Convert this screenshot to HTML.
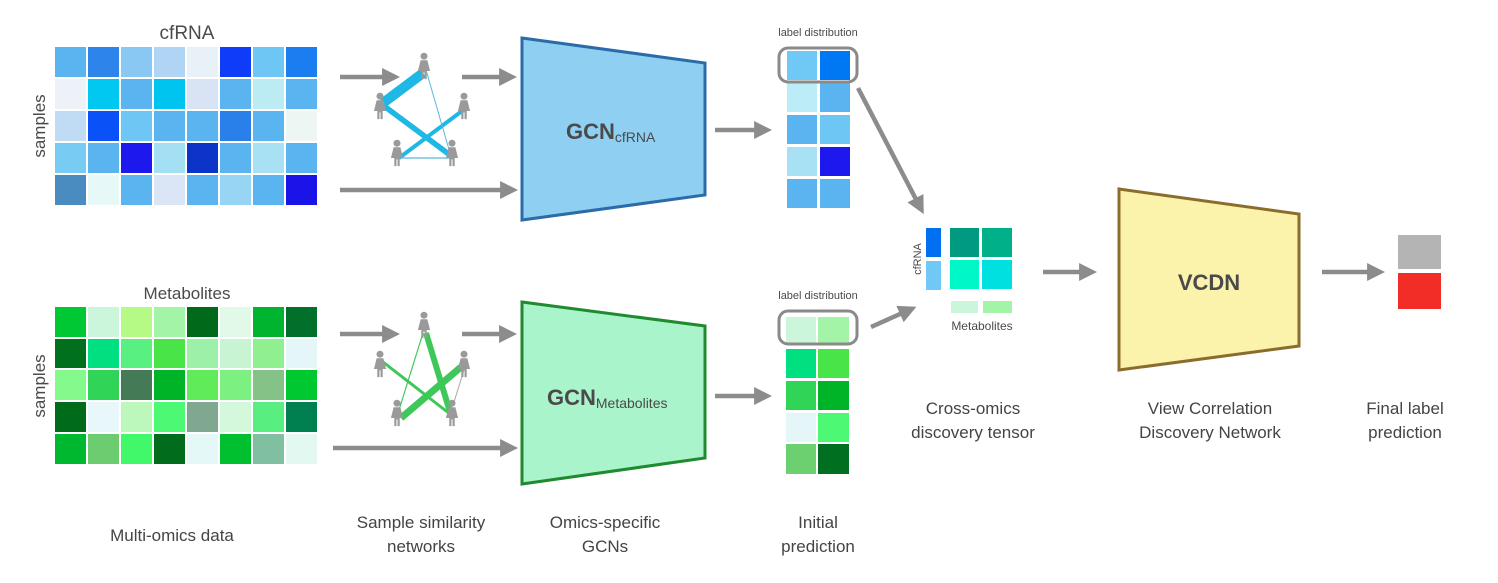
<!DOCTYPE html>
<html><head><meta charset="utf-8"><style>
body{margin:0;background:#fff}
svg{display:block}
text{font-family:"Liberation Sans",sans-serif;fill:#4a4a4a}
</style></head><body>
<svg width="1498" height="583" viewBox="0 0 1498 583" xmlns="http://www.w3.org/2000/svg">
<defs>
<marker id="ah" markerWidth="4" markerHeight="4" refX="2.2" refY="2" orient="auto" markerUnits="strokeWidth"><path d="M0,0 L4,2 L0,4 z" fill="#8c8c8c"/></marker>
<g id="p" transform="scale(1.35)"><circle cx="0" cy="-8" r="2.6" fill="#9a9a9a"/><path d="M-2.5,-5 L2.5,-5 L4.5,3 L2,3 L2,9 L0.4,9 L0.4,4 L-0.4,4 L-0.4,9 L-2,9 L-2,3 L-4.5,3 z" fill="#9a9a9a"/></g>
</defs>
<text x="187" y="39" font-size="19" text-anchor="middle">cfRNA</text>
<text x="187" y="299" font-size="17" text-anchor="middle">Metabolites</text>
<text transform="translate(45,126) rotate(-90)" font-size="17" text-anchor="middle">samples</text>
<text transform="translate(45,386) rotate(-90)" font-size="17" text-anchor="middle">samples</text>
<g>
<rect x="55" y="47" width="31" height="30" fill="#5ab4f0"/><rect x="88" y="47" width="31" height="30" fill="#2d84ea"/><rect x="121" y="47" width="31" height="30" fill="#8ac8f4"/><rect x="154" y="47" width="31" height="30" fill="#b0d4f4"/><rect x="187" y="47" width="31" height="30" fill="#e8f0f8"/><rect x="220" y="47" width="31" height="30" fill="#0e3cf8"/><rect x="253" y="47" width="31" height="30" fill="#6ec6f4"/><rect x="286" y="47" width="31" height="30" fill="#1a7ef0"/>
<rect x="55" y="79" width="31" height="30" fill="#edf2f8"/><rect x="88" y="79" width="31" height="30" fill="#00c8f0"/><rect x="121" y="79" width="31" height="30" fill="#5ab4f0"/><rect x="154" y="79" width="31" height="30" fill="#00c4f0"/><rect x="187" y="79" width="31" height="30" fill="#d8e4f4"/><rect x="220" y="79" width="31" height="30" fill="#5ab4f0"/><rect x="253" y="79" width="31" height="30" fill="#bbecf4"/><rect x="286" y="79" width="31" height="30" fill="#5ab4f0"/>
<rect x="55" y="111" width="31" height="30" fill="#c0dcf4"/><rect x="88" y="111" width="31" height="30" fill="#0a52f8"/><rect x="121" y="111" width="31" height="30" fill="#6ec6f4"/><rect x="154" y="111" width="31" height="30" fill="#5ab4f0"/><rect x="187" y="111" width="31" height="30" fill="#5ab4f0"/><rect x="220" y="111" width="31" height="30" fill="#2a80ea"/><rect x="253" y="111" width="31" height="30" fill="#5ab4f0"/><rect x="286" y="111" width="31" height="30" fill="#eef6f4"/>
<rect x="55" y="143" width="31" height="30" fill="#78ccf4"/><rect x="88" y="143" width="31" height="30" fill="#5ab4f0"/><rect x="121" y="143" width="31" height="30" fill="#1c18ee"/><rect x="154" y="143" width="31" height="30" fill="#a4e0f4"/><rect x="187" y="143" width="31" height="30" fill="#0c34c8"/><rect x="220" y="143" width="31" height="30" fill="#5ab4f0"/><rect x="253" y="143" width="31" height="30" fill="#a8e0f4"/><rect x="286" y="143" width="31" height="30" fill="#5ab4f0"/>
<rect x="55" y="175" width="31" height="30" fill="#4a8cc0"/><rect x="88" y="175" width="31" height="30" fill="#e6f8f8"/><rect x="121" y="175" width="31" height="30" fill="#5ab4f0"/><rect x="154" y="175" width="31" height="30" fill="#dae6f6"/><rect x="187" y="175" width="31" height="30" fill="#5ab4f0"/><rect x="220" y="175" width="31" height="30" fill="#98d4f4"/><rect x="253" y="175" width="31" height="30" fill="#5ab4f0"/><rect x="286" y="175" width="31" height="30" fill="#1a14e8"/>
</g>
<g>
<rect x="55" y="307" width="31" height="30" fill="#00c832"/><rect x="88" y="307" width="31" height="30" fill="#ccf6dc"/><rect x="121" y="307" width="31" height="30" fill="#b4fa84"/><rect x="154" y="307" width="31" height="30" fill="#a4f4a8"/><rect x="187" y="307" width="31" height="30" fill="#006a1a"/><rect x="220" y="307" width="31" height="30" fill="#e2f8e8"/><rect x="253" y="307" width="31" height="30" fill="#00b430"/><rect x="286" y="307" width="31" height="30" fill="#00702a"/>
<rect x="55" y="339" width="31" height="29" fill="#00701c"/><rect x="88" y="339" width="31" height="29" fill="#00e080"/><rect x="121" y="339" width="31" height="29" fill="#58f080"/><rect x="154" y="339" width="31" height="29" fill="#48e448"/><rect x="187" y="339" width="31" height="29" fill="#9cf0a8"/><rect x="220" y="339" width="31" height="29" fill="#c8f4d4"/><rect x="253" y="339" width="31" height="29" fill="#90f090"/><rect x="286" y="339" width="31" height="29" fill="#e4f6f8"/>
<rect x="55" y="370" width="31" height="30" fill="#84fa8c"/><rect x="88" y="370" width="31" height="30" fill="#30d456"/><rect x="121" y="370" width="31" height="30" fill="#447a56"/><rect x="154" y="370" width="31" height="30" fill="#00b428"/><rect x="187" y="370" width="31" height="30" fill="#60ec58"/><rect x="220" y="370" width="31" height="30" fill="#7cf080"/><rect x="253" y="370" width="31" height="30" fill="#84c288"/><rect x="286" y="370" width="31" height="30" fill="#00c830"/>
<rect x="55" y="402" width="31" height="30" fill="#006c1a"/><rect x="88" y="402" width="31" height="30" fill="#e8f8fa"/><rect x="121" y="402" width="31" height="30" fill="#bcf8bc"/><rect x="154" y="402" width="31" height="30" fill="#4cf874"/><rect x="187" y="402" width="31" height="30" fill="#80a890"/><rect x="220" y="402" width="31" height="30" fill="#d4f8dc"/><rect x="253" y="402" width="31" height="30" fill="#58ee80"/><rect x="286" y="402" width="31" height="30" fill="#008050"/>
<rect x="55" y="434" width="31" height="30" fill="#00b830"/><rect x="88" y="434" width="31" height="30" fill="#6ccc70"/><rect x="121" y="434" width="31" height="30" fill="#40f868"/><rect x="154" y="434" width="31" height="30" fill="#006c1c"/><rect x="187" y="434" width="31" height="30" fill="#e4f8f8"/><rect x="220" y="434" width="31" height="30" fill="#00c030"/><rect x="253" y="434" width="31" height="30" fill="#80c0a0"/><rect x="286" y="434" width="31" height="30" fill="#e4f8f2"/>
</g>
<g stroke="#8c8c8c" stroke-width="4.5" fill="none" marker-end="url(#ah)">
<line x1="340" y1="77" x2="392" y2="77"/>
<line x1="462" y1="77" x2="509" y2="77"/>
<line x1="340" y1="190" x2="510" y2="190"/>
<line x1="340" y1="334" x2="392" y2="334"/>
<line x1="462" y1="334" x2="509" y2="334"/>
<line x1="333" y1="448" x2="510" y2="448"/>
<line x1="715" y1="130" x2="764" y2="130"/>
<line x1="715" y1="396" x2="764" y2="396"/>
<line x1="858" y1="88" x2="920" y2="207"/>
<line x1="871" y1="327" x2="909" y2="310"/>
<line x1="1043" y1="272" x2="1089" y2="272"/>
<line x1="1322" y1="272" x2="1377" y2="272"/>
</g>
<g stroke="#1fb8e4" stroke-linecap="butt">
<line x1="423" y1="73" x2="383" y2="103" stroke-width="10"/>
<line x1="384" y1="106" x2="450" y2="155" stroke-width="5.5"/>
<line x1="462" y1="111" x2="399" y2="158" stroke-width="4"/>
<line x1="426" y1="70" x2="450" y2="153" stroke-width="1" stroke="#5ab8d8"/>
<line x1="399" y1="158" x2="450" y2="158" stroke-width="1.3" stroke="#5ab8d8"/>
</g>
<g stroke="#3ec85a">
<line x1="426" y1="333" x2="450" y2="412" stroke-width="6"/>
<line x1="461" y1="367" x2="401" y2="418" stroke-width="7"/>
<line x1="383" y1="362" x2="450" y2="414" stroke-width="3"/>
<line x1="423" y1="333" x2="399" y2="410" stroke-width="1.2"/>
<line x1="464" y1="370" x2="454" y2="402" stroke-width="1" stroke="#b0a8a0"/>
</g>
<use href="#p" x="424" y="67"/><use href="#p" x="380" y="107"/><use href="#p" x="464" y="107"/><use href="#p" x="397" y="154"/><use href="#p" x="452" y="154"/>
<use href="#p" x="424" y="326"/><use href="#p" x="380" y="365"/><use href="#p" x="464" y="365"/><use href="#p" x="397" y="414"/><use href="#p" x="452" y="414"/>
<polygon points="522,38 705,63 705,195 522,220" fill="#8ecff2" stroke="#2b6ca8" stroke-width="3"/>
<text x="566" y="139" font-size="22" font-weight="bold">GCN<tspan font-size="14" font-weight="normal" dy="3">cfRNA</tspan></text>
<polygon points="522,302 705,326 705,458 522,484" fill="#aaf4cb" stroke="#1f8a2f" stroke-width="3"/>
<text x="547" y="405" font-size="22" font-weight="bold">GCN<tspan font-size="14" font-weight="normal" dy="3">Metabolites</tspan></text>
<text x="818" y="36" font-size="11" text-anchor="middle">label distribution</text>
<rect x="787" y="51" width="30" height="29" fill="#70c8f4"/><rect x="820" y="51" width="30" height="29" fill="#0078f4"/>
<rect x="787" y="83" width="30" height="29" fill="#bcecf8"/><rect x="820" y="83" width="30" height="29" fill="#5ab4f0"/>
<rect x="787" y="115" width="30" height="29" fill="#5ab4f0"/><rect x="820" y="115" width="30" height="29" fill="#6ec6f4"/>
<rect x="787" y="147" width="30" height="29" fill="#a8e0f4"/><rect x="820" y="147" width="30" height="29" fill="#1c18ee"/>
<rect x="787" y="179" width="30" height="29" fill="#5ab4f0"/><rect x="820" y="179" width="30" height="29" fill="#5ab4f0"/>
<rect x="779" y="48" width="78" height="34" rx="9" fill="none" stroke="#8a8a8a" stroke-width="3"/>
<text x="818" y="299" font-size="11" text-anchor="middle">label distribution</text>
<rect x="786" y="317" width="30" height="26" fill="#ccf6dc"/><rect x="818" y="317" width="31" height="26" fill="#a4f4a8"/>
<rect x="786" y="349" width="30" height="29" fill="#00e080"/><rect x="818" y="349" width="31" height="29" fill="#48e448"/>
<rect x="786" y="381" width="30" height="29" fill="#30d456"/><rect x="818" y="381" width="31" height="29" fill="#00b428"/>
<rect x="786" y="413" width="30" height="29" fill="#e4f6f8"/><rect x="818" y="413" width="31" height="29" fill="#4cf874"/>
<rect x="786" y="444" width="30" height="30" fill="#6cd070"/><rect x="818" y="444" width="31" height="30" fill="#007020"/>
<rect x="779" y="311" width="78" height="33" rx="9" fill="none" stroke="#8a8a8a" stroke-width="3"/>
<rect x="926" y="228" width="15" height="29" fill="#0070f0"/><rect x="926" y="261" width="15" height="29" fill="#70c8f4"/>
<text transform="translate(921,259) rotate(-90)" font-size="11" text-anchor="middle">cfRNA</text>
<rect x="950" y="228" width="29" height="29" fill="#009a80"/><rect x="982" y="228" width="30" height="29" fill="#00b088"/>
<rect x="950" y="260" width="29" height="29" fill="#00f8c8"/><rect x="982" y="260" width="30" height="29" fill="#00e0e0"/>
<rect x="951" y="301" width="27" height="12" fill="#ccf6dc"/><rect x="983" y="301" width="29" height="12" fill="#a4f4a8"/>
<text x="982" y="330" font-size="12" text-anchor="middle">Metabolites</text>
<polygon points="1119,189 1299,214 1299,346 1119,370" fill="#fbf2ab" stroke="#8a6d2c" stroke-width="3"/>
<text x="1209" y="290" font-size="22" font-weight="bold" text-anchor="middle">VCDN</text>
<rect x="1398" y="235" width="43" height="34" fill="#b4b4b4"/>
<rect x="1398" y="273" width="43" height="36" fill="#f22c26"/>
<g font-size="17" text-anchor="middle">
<text x="172" y="541" style="fill:#444">Multi-omics data</text>
<text x="421" y="528" style="fill:#444">Sample similarity</text><text x="421" y="552" style="fill:#444">networks</text>
<text x="605" y="528" style="fill:#444">Omics-specific</text><text x="605" y="552" style="fill:#444">GCNs</text>
<text x="818" y="528" style="fill:#444">Initial</text><text x="818" y="552" style="fill:#444">prediction</text>
<text x="973" y="414" style="fill:#444">Cross-omics</text><text x="973" y="438" style="fill:#444">discovery tensor</text>
<text x="1210" y="414" style="fill:#444">View Correlation</text><text x="1210" y="438" style="fill:#444">Discovery Network</text>
<text x="1405" y="414" style="fill:#444">Final label</text><text x="1405" y="438" style="fill:#444">prediction</text>
</g>
</svg>
</body></html>
